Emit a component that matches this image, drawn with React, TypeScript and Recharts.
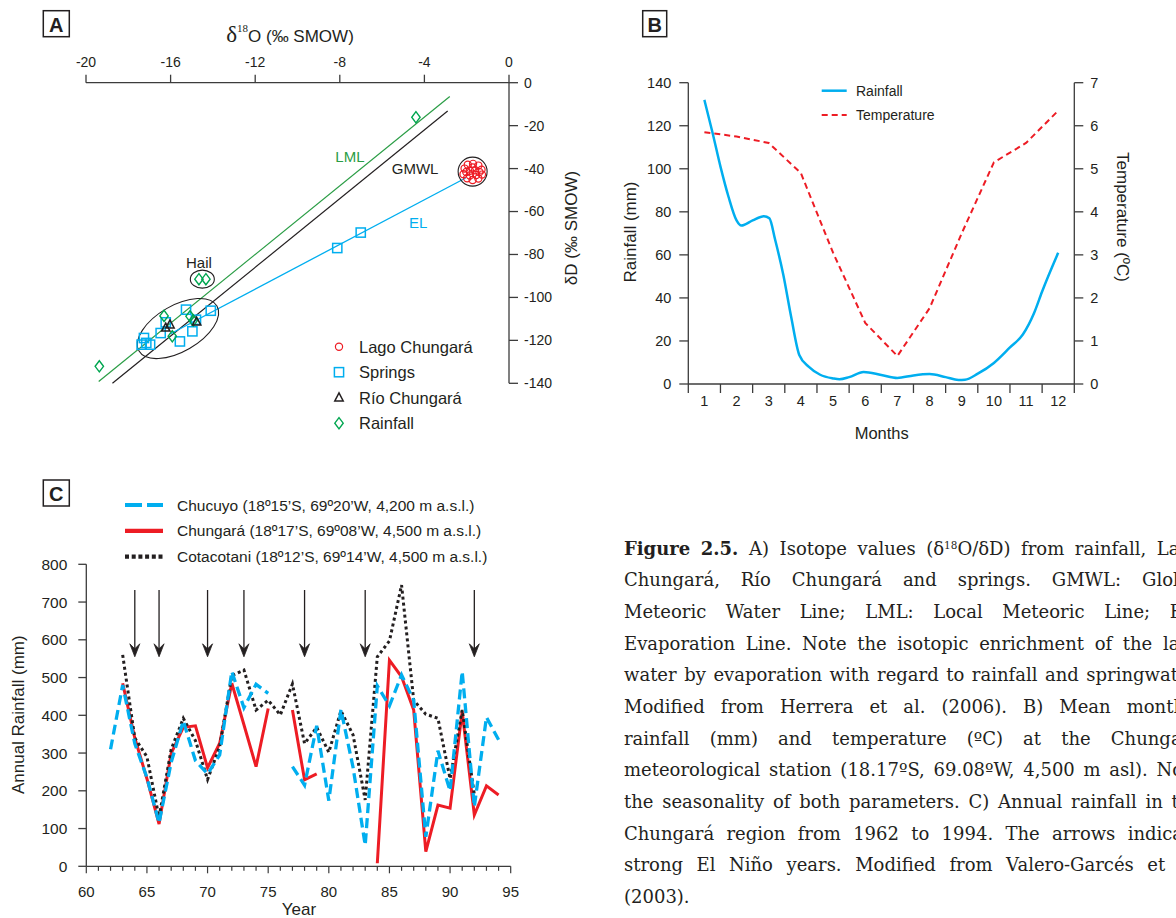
import React from 'react';
import {
  ScatterChart,
  Scatter,
  ComposedChart,
  Line,
  XAxis,
  YAxis,
  ReferenceLine,
  ReferenceDot,
  Legend,
} from 'recharts';

const SANS = '"Liberation Sans", Arial, Helvetica, sans-serif';
const SERIF = '"DejaVu Serif", Georgia, serif';
const INK = '#231f20';
const AXIS = '#3c3c3c';
const CYAN = '#00aeef';
const RED = '#ed1c24';
const GREEN_PT = '#00a650';
const GREEN_LINE = '#2a9d45';

// ---------------- Panel A : isotopes ----------------
const o18Ticks = [-20, -16, -12, -8, -4, 0];
const dDTicks = [0, -20, -40, -60, -80, -100, -120, -140];

const lagoChungara = [
  { x: -2.1, y: -40.0 }, { x: -1.95, y: -38.2 }, { x: -1.7, y: -37.8 }, { x: -1.45, y: -38.6 },
  { x: -1.3, y: -40.5 }, { x: -1.28, y: -42.8 }, { x: -1.45, y: -44.6 }, { x: -1.72, y: -45.3 },
  { x: -1.98, y: -44.5 }, { x: -2.15, y: -42.6 }, { x: -1.85, y: -41.0 }, { x: -1.6, y: -40.8 },
  { x: -1.55, y: -43.0 }, { x: -1.85, y: -43.2 }, { x: -1.72, y: -39.5 }, { x: -2.02, y: -41.6 },
  { x: -1.4, y: -41.6 },
];
const springs = [
  { x: -8.12, y: -77.0 }, { x: -7.01, y: -69.8 }, { x: -14.1, y: -106.2 }, { x: -15.27, y: -105.7 },
  { x: -16.23, y: -111.6 }, { x: -16.47, y: -116.6 }, { x: -17.26, y: -118.9 }, { x: -17.37, y: -122.0 },
  { x: -16.97, y: -122.0 }, { x: -17.15, y: -121.2 }, { x: -15.56, y: -120.5 }, { x: -14.97, y: -115.8 },
  { x: -14.8, y: -110.4 },
];
const rioChungara = [
  { x: -16.23, y: -114.2 }, { x: -16.03, y: -112.7 }, { x: -14.77, y: -111.4 },
];
const rainfallIsotopes = [
  { x: -19.37, y: -132.1 }, { x: -4.4, y: -16.1 }, { x: -14.66, y: -91.5 }, { x: -14.33, y: -91.5 },
  { x: -16.31, y: -108.6 }, { x: -15.08, y: -108.8 }, { x: -14.93, y: -110.8 }, { x: -15.92, y: -118.1 },
];
const gmwlLine = [{ x: -18.75, y: -140 }, { x: -2.9, y: -13.2 }];
const lmlLine = [{ x: -19.4, y: -139.2 }, { x: -2.8, y: -6.4 }];
const elLine = [{ x: -16.0, y: -116.9 }, { x: -2.05, y: -44.4 }];
const lagoCentre = { x: -1.72, y: -41.4 };
const hailCentre = { x: -14.5, y: -91.5 };
const groundCentre = { x: -15.65, y: -114.5 };
const legendANames = ['Lago Chungará', 'Springs', 'Río Chungará', 'Rainfall'];

// ---------------- Panel B : monthly climate ----------------
const months = [1, 2, 3, 4, 5, 6, 7, 8, 9, 10, 11, 12];
const rainTicksB = [0, 20, 40, 60, 80, 100, 120, 140];
const tempTicksB = [0, 1, 2, 3, 4, 5, 6, 7];
const monthlyRainfall = [
  { m: 1, v: 132 }, { m: 1.25, v: 117 }, { m: 1.5, v: 101 }, { m: 1.75, v: 87 }, { m: 2, v: 76 },
  { m: 2.15, v: 73.6 }, { m: 2.5, v: 76 }, { m: 2.85, v: 78 }, { m: 3.02, v: 77 }, { m: 3.2, v: 67 },
  { m: 3.45, v: 51 }, { m: 3.7, v: 31 }, { m: 3.95, v: 13.5 }, { m: 4.25, v: 8 }, { m: 4.6, v: 4.3 },
  { m: 5, v: 2.6 }, { m: 5.2, v: 2.2 }, { m: 5.5, v: 3.2 }, { m: 5.95, v: 5.6 }, { m: 6.5, v: 4.2 },
  { m: 7, v: 2.8 }, { m: 7.5, v: 4.0 }, { m: 8, v: 4.6 }, { m: 8.5, v: 3.2 }, { m: 8.9, v: 1.9 },
  { m: 9.1, v: 2.0 }, { m: 9.5, v: 4.8 }, { m: 10, v: 9.8 }, { m: 10.5, v: 17 }, { m: 10.9, v: 23 },
  { m: 11.25, v: 33 }, { m: 11.5, v: 43 }, { m: 12, v: 61 },
];
const monthlyTemperatureValues = [5.85, 5.75, 5.6, 4.9, 3.05, 1.42, 0.65, 1.76, 3.5, 5.15, 5.6, 6.35];
const monthlyTemperature = months.map((m, i) => ({ m, v: monthlyTemperatureValues[i] }));
const monthTickPositions = months.flatMap((m) => [m - 0.5, m]).concat([12.5]);
const legendBNames = ['Rainfall', 'Temperature'];

// ---------------- Panel C : annual rainfall ----------------
const years = [62, 63, 64, 65, 66, 67, 68, 69, 70, 71, 72, 73, 74, 75, 76, 77, 78, 79, 80, 81, 82, 83, 84, 85, 86, 87, 88, 89, 90, 91, 92, 93, 94];
const chucuyo = [310, 480, 325, 235, 115, 275, 385, 280, 245, 295, 516, 420, 482, 458, null, 264, 215, 372, 174, 415, 262, 56, 478, 425, 507, 440, 78, 306, 200, 516, 158, 395, 335];
const chungara = [null, 485, 340, 232, 112, 299, 368, 372, 261, 326, 485, 375, 264, 418, null, 414, 229, 245, null, null, null, null, 8, 546, 502, 414, 39, 162, 154, 410, 136, 213, 189];
const cotacotani = [null, 560, 340, 290, 130, 310, 392, 333, 230, 317, 505, 520, 414, 440, 401, 483, 325, 368, 302, 412, 348, 176, 555, 597, 745, 440, 403, 392, 232, 414, 190, null, null];
const annualRows = years.map((year, i) => ({ year, chucuyo: chucuyo[i], chungara: chungara[i], cotacotani: cotacotani[i] }));
const yearTicks = [60, 61, 62, 63, 64, 65, 66, 67, 68, 69, 70, 71, 72, 73, 74, 75, 76, 77, 78, 79, 80, 81, 82, 83, 84, 85, 86, 87, 88, 89, 90, 91, 92, 93, 94, 95];
const annualTicks = [0, 100, 200, 300, 400, 500, 600, 700, 800];
const elNinoYears = [64, 66, 70, 73, 78, 83, 92];
const arrowTop = 732;
const arrowTip = 555;
const stationNames = [
  'Chucuyo (18º15’S, 69º20’W, 4,200 m a.s.l.)',
  'Chungará (18º17’S, 69º08’W, 4,500 m a.s.l.)',
  'Cotacotani (18º12’S, 69º14’W, 4,500 m a.s.l.)',
];

const captionLines = [
  'Figure 2.5. A) Isotope values (δ18O/δD) from rainfall, Lake',
  'Chungará, Río Chungará and springs. GMWL: Global',
  'Meteoric Water Line; LML: Local Meteoric Line; EL:',
  'Evaporation Line. Note the isotopic enrichment of the lake',
  'water by evaporation with regard to rainfall and springwater.',
  'Modified from Herrera et al. (2006). B) Mean monthly',
  'rainfall (mm) and temperature (ºC) at the Chungará',
  'meteorological station (18.17ºS, 69.08ºW, 4,500 m asl). Note',
  'the seasonality of both parameters. C) Annual rainfall in the',
  'Chungará region from 1962 to 1994. The arrows indicate',
  'strong El Niño years. Modified from Valero-Garcés et al.',
  '(2003).',
];

// ---------------- shapes ----------------
const CircleMark = (p: any) => (
  <circle cx={p.cx} cy={p.cy} r={3.6} fill="none" stroke={RED} strokeWidth={1.2} />
);
const SquareMark = (p: any) => (
  <rect x={p.cx - 4.6} y={p.cy - 4.6} width={9.2} height={9.2} fill="none" stroke={CYAN} strokeWidth={1.5} />
);
const TriangleMark = (p: any) => (
  <path d={`M${p.cx},${p.cy - 4.8}L${p.cx + 4.2},${p.cy + 3.2}L${p.cx - 4.2},${p.cy + 3.2}Z`} fill="none" stroke={INK} strokeWidth={1.5} />
);
const DiamondMark = (p: any) => (
  <path d={`M${p.cx},${p.cy - 5.6}L${p.cx + 4.2},${p.cy}L${p.cx},${p.cy + 5.6}L${p.cx - 4.2},${p.cy}Z`} fill="none" stroke={GREEN_PT} strokeWidth={1.4} />
);
const textShape = (label: string, color: string) => (p: any) => (
  <text x={p.cx} y={p.cy} textAnchor="middle" dominantBaseline="central" fill={color} fontSize={15} fontFamily={SANS}>
    {label}
  </text>
);
const ellipseShape = (rx: number, ry: number, angle: number) => (p: any) => (
  <ellipse cx={p.cx} cy={p.cy} rx={rx} ry={ry} transform={`rotate(${angle} ${p.cx} ${p.cy})`} fill="none" stroke={INK} strokeWidth={1.1} />
);
const ArrowHead = (p: any) => (
  <path d={`M${p.cx},${p.cy}L${p.cx - 5},${p.cy - 13}L${p.cx},${p.cy - 8}L${p.cx + 5},${p.cy - 13}Z`} fill={INK} stroke={INK} strokeWidth={0.8} strokeLinejoin="round" />
);

const tickStyle = (size: number) => ({ fill: INK, fontSize: size, fontFamily: SANS });
const axisLine = { stroke: AXIS, strokeWidth: 1.3 };

const MonthTick = (p: any) => {
  const v = p.payload.value;
  if (Number.isInteger(v)) {
    return (
      <text x={p.x} y={p.y + 16.5} textAnchor="middle" dominantBaseline="central" fontSize={14.5} fill={INK} fontFamily={SANS}>
        {v}
      </text>
    );
  }
  return <line x1={p.x} x2={p.x} y1={p.y} y2={p.y + 9} stroke={AXIS} strokeWidth={1.3} />;
};

const YearTick = (p: any) => {
  const v = p.payload.value;
  const major = v % 5 === 0;
  return (
    <g>
      <line x1={p.x} x2={p.x} y1={p.y} y2={p.y + (major ? 7 : 4.5)} stroke={AXIS} strokeWidth={1.2} />
      {major && (
        <text x={p.x} y={p.y + 25.4} textAnchor="middle" dominantBaseline="central" fontSize={15} fill={INK} fontFamily={SANS}>
          {v}
        </text>
      )}
    </g>
  );
};

// ---------------- legends ----------------
const LegendA = () => {
  const marks = [CircleMark, SquareMark, TriangleMark, DiamondMark];
  return (
    <svg width={200} height={100} style={{ overflow: 'visible' }}>
      {legendANames.map((name, i) => {
        const Mark = marks[i];
        const cy = 12.7 + i * 25.5;
        return (
          <g key={name}>
            <Mark cx={14} cy={cy} />
            <text x={34} y={cy} dominantBaseline="central" fontSize={16.5} fill={INK} fontFamily={SANS}>
              {name}
            </text>
          </g>
        );
      })}
    </svg>
  );
};

const LegendB = () => {
  const styles = [
    { stroke: CYAN, strokeWidth: 2.5, dash: undefined },
    { stroke: RED, strokeWidth: 2, dash: '6 4' },
  ];
  return (
    <svg width={160} height={50} style={{ overflow: 'visible' }}>
      {legendBNames.map((name, i) => {
        const cy = 12.7 + i * 24.3;
        const s = styles[i];
        return (
          <g key={name}>
            <line x1={6.7} x2={31.7} y1={cy} y2={cy} stroke={s.stroke} strokeWidth={s.strokeWidth} strokeDasharray={s.dash} />
            <text x={41} y={cy} dominantBaseline="central" fontSize={14} fill={INK} fontFamily={SANS}>
              {name}
            </text>
          </g>
        );
      })}
    </svg>
  );
};

const LegendC = () => {
  const styles = [
    { stroke: CYAN, dash: '17 5' },
    { stroke: RED, dash: undefined },
    { stroke: INK, dash: '4 2.7' },
  ];
  return (
    <svg width={420} height={80} style={{ overflow: 'visible' }}>
      {stationNames.map((name, i) => {
        const cy = 13 + i * 25.8;
        const s = styles[i];
        return (
          <g key={name}>
            <line x1={5} x2={43} y1={cy} y2={cy} stroke={s.stroke} strokeWidth={4.2} strokeDasharray={s.dash} />
            <text x={57} y={cy} dominantBaseline="central" fontSize={15.5} fill={INK} fontFamily={SANS}>
              {name}
            </text>
          </g>
        );
      })}
    </svg>
  );
};

// ---------------- panels ----------------
const PanelA = () => (
  <ScatterChart width={600} height={440} margin={{ top: 52.7, right: 31, bottom: 56.7, left: 86 }}>
    <XAxis
      type="number"
      dataKey="x"
      orientation="top"
      domain={[-20, 0]}
      ticks={o18Ticks}
      interval={0}
      allowDataOverflow
      tickSize={8}
      tickMargin={8}
      axisLine={axisLine}
      tickLine={axisLine}
      tick={tickStyle(14)}
    />
    <YAxis
      type="number"
      dataKey="y"
      orientation="right"
      domain={[-140, 0]}
      ticks={dDTicks}
      interval={0}
      allowDataOverflow
      tickSize={9}
      tickMargin={6}
      axisLine={axisLine}
      tickLine={axisLine}
      tick={tickStyle(14)}
    />
    <ReferenceLine segment={lmlLine} stroke={GREEN_LINE} strokeWidth={1.2} ifOverflow="visible" />
    <ReferenceLine segment={gmwlLine} stroke={INK} strokeWidth={1.2} ifOverflow="visible" />
    <ReferenceLine segment={elLine} stroke={CYAN} strokeWidth={1.3} ifOverflow="visible" />
    <ReferenceDot x={groundCentre.x} y={groundCentre.y} r={1} shape={ellipseShape(45, 23, -30)} ifOverflow="visible" />
    <ReferenceDot x={hailCentre.x} y={hailCentre.y} r={1} shape={ellipseShape(12, 9, 0)} ifOverflow="visible" />
    <ReferenceDot x={lagoCentre.x} y={lagoCentre.y} r={1} shape={ellipseShape(14.5, 14.5, 0)} ifOverflow="visible" />
    <Scatter data={lagoChungara} shape={CircleMark} isAnimationActive={false} />
    <Scatter data={springs} shape={SquareMark} isAnimationActive={false} />
    <Scatter data={rainfallIsotopes} shape={DiamondMark} isAnimationActive={false} />
    <Scatter data={rioChungara} shape={TriangleMark} isAnimationActive={false} />
    <ReferenceDot x={-7.52} y={-34.6} r={1} shape={textShape('LML', GREEN_LINE)} ifOverflow="visible" />
    <ReferenceDot x={-4.44} y={-40.1} r={1} shape={textShape('GMWL', INK)} ifOverflow="visible" />
    <ReferenceDot x={-4.3} y={-65.1} r={1} shape={textShape('EL', CYAN)} ifOverflow="visible" />
    <ReferenceDot x={-14.66} y={-83.7} r={1} shape={textShape('Hail', INK)} ifOverflow="visible" />
    <Legend
      layout="vertical"
      align="center"
      verticalAlign="middle"
      content={() => <LegendA />}
      wrapperStyle={{ left: 325, top: 334, width: 200, height: 100 }}
    />
  </ScatterChart>
);

const PanelB = () => (
  <ComposedChart width={576} height={450} margin={{ top: 82.7, right: 41.7, bottom: 36, left: 28.3 }}>
    <XAxis
      type="number"
      dataKey="m"
      domain={[0.5, 12.5]}
      ticks={monthTickPositions}
      interval={0}
      allowDataOverflow
      tickLine={false}
      tickSize={0}
      tickMargin={0}
      axisLine={axisLine}
      tick={(p: any) => <MonthTick {...p} />}
    />
    <YAxis
      yAxisId="mm"
      type="number"
      domain={[0, 140]}
      ticks={rainTicksB}
      interval={0}
      tickSize={9}
      tickMargin={8}
      axisLine={axisLine}
      tickLine={axisLine}
      tick={tickStyle(14.5)}
    />
    <YAxis
      yAxisId="t"
      orientation="right"
      type="number"
      domain={[0, 7]}
      ticks={tempTicksB}
      interval={0}
      tickSize={9}
      tickMargin={7}
      axisLine={axisLine}
      tickLine={axisLine}
      tick={tickStyle(14.5)}
    />
    <Line yAxisId="t" data={monthlyTemperature} dataKey="v" type="linear" stroke={RED} strokeWidth={2} strokeDasharray="6 4" dot={false} activeDot={false} isAnimationActive={false} />
    <Line yAxisId="mm" data={monthlyRainfall} dataKey="v" type="monotone" stroke={CYAN} strokeWidth={2.5} dot={false} activeDot={false} isAnimationActive={false} />
    <Legend
      layout="vertical"
      align="center"
      verticalAlign="middle"
      content={() => <LegendB />}
      wrapperStyle={{ left: 215, top: 78, width: 160, height: 50 }}
    />
  </ComposedChart>
);

const PanelC = () => (
  <ComposedChart width={560} height={448} data={annualRows} margin={{ top: 94.3, right: 49.3, bottom: 21.7, left: 26.3 }}>
    <XAxis
      type="number"
      dataKey="year"
      domain={[60, 95]}
      ticks={yearTicks}
      interval={0}
      allowDataOverflow
      tickLine={false}
      tickSize={0}
      tickMargin={0}
      axisLine={axisLine}
      tick={(p: any) => <YearTick {...p} />}
    />
    <YAxis
      type="number"
      domain={[0, 800]}
      ticks={annualTicks}
      interval={0}
      tickSize={8}
      tickMargin={11}
      axisLine={axisLine}
      tickLine={axisLine}
      tick={tickStyle(15.5)}
    />
    {elNinoYears.map((yr) => (
      <ReferenceLine key={'s' + yr} segment={[{ x: yr, y: arrowTop }, { x: yr, y: arrowTip + 6 }]} stroke={INK} strokeWidth={1.3} ifOverflow="visible" />
    ))}
    {elNinoYears.map((yr) => (
      <ReferenceDot key={'h' + yr} x={yr} y={arrowTip} r={1} shape={ArrowHead} ifOverflow="visible" />
    ))}
    <Line dataKey="chungara" type="linear" stroke={RED} strokeWidth={3} dot={false} activeDot={false} connectNulls={false} isAnimationActive={false} />
    <Line dataKey="cotacotani" type="linear" stroke={INK} strokeWidth={3} strokeDasharray="3 3" dot={false} activeDot={false} connectNulls={false} isAnimationActive={false} />
    <Line dataKey="chucuyo" type="linear" stroke={CYAN} strokeWidth={3.3} strokeDasharray="10 5" dot={false} activeDot={false} connectNulls={false} isAnimationActive={false} />
    <Legend
      layout="vertical"
      align="center"
      verticalAlign="middle"
      content={() => <LegendC />}
      wrapperStyle={{ left: 120, top: 22, width: 420, height: 80 }}
    />
  </ComposedChart>
);

// ---------------- caption ----------------
const renderWord = (w: string, li: number, wi: number) => {
  if (li === 0 && wi < 2) return <b key={wi}>{w}</b>;
  if (w.includes('δ18O')) {
    const [a, b] = w.split('18');
    return (
      <span key={wi}>
        {a}
        <sup style={{ fontSize: '0.58em', verticalAlign: '0.6em', lineHeight: 0 }}>18</sup>
        {b}
      </span>
    );
  }
  return <span key={wi}>{w}</span>;
};

const Caption = () => (
  <div style={{ position: 'absolute', left: 624, top: 532.6, fontFamily: SERIF, fontSize: 18, color: INK }}>
    {captionLines.map((line, li) => (
      <div
        key={li}
        style={{
          display: 'flex',
          justifyContent: li === captionLines.length - 1 ? 'flex-start' : 'space-between',
          columnGap: '0.22em',
          width: 577,
          height: 31.67,
          lineHeight: '31.67px',
          whiteSpace: 'nowrap',
        }}
      >
        {line.split(' ').map((w, wi) => renderWord(w, li, wi))}
      </div>
    ))}
  </div>
);

const PanelLetter = ({ x, y, w, h, letter }: { x: number; y: number; w: number; h: number; letter: string }) => (
  <g>
    <rect x={x} y={y} width={w} height={h} fill="none" stroke={INK} strokeWidth={1.5} />
    <text x={x + w / 2} y={y + h / 2 + 1} textAnchor="middle" dominantBaseline="central" fontSize={20} fontWeight="bold" fill={INK} fontFamily={SANS}>
      {letter}
    </text>
  </g>
);

export default function App() {
  return (
    <div style={{ position: 'fixed', left: 0, top: 0, width: 1176, height: 918, overflow: 'hidden', background: '#fff', fontFamily: SANS }}>
      <div style={{ position: 'absolute', left: 0, top: 0 }}>
        <PanelA />
      </div>
      <div style={{ position: 'absolute', left: 600, top: 0 }}>
        <PanelB />
      </div>
      <div style={{ position: 'absolute', left: 0, top: 470 }}>
        <PanelC />
      </div>
      <svg width={1176} height={918} style={{ position: 'absolute', left: 0, top: 0, pointerEvents: 'none' }} fontFamily={SANS} fill={INK}>
        <PanelLetter x={43.3} y={10.7} w={26} h={26} letter="A" />
        <PanelLetter x={642.7} y={10.7} w={24} h={26} letter="B" />
        <PanelLetter x={43.3} y={480} w={26} h={26} letter="C" />
        <text x={290} y={41.5} textAnchor="middle" fontSize={17}>
          <tspan fontSize={23} fontFamily='"Liberation Serif", serif'>δ</tspan>
          <tspan fontSize={11} dy={-10} fontFamily='"Liberation Serif", serif'>18</tspan>
          <tspan dy={10}>O (‰ SMOW)</tspan>
        </text>
        <text transform="translate(571.7 228) rotate(-90)" textAnchor="middle" dominantBaseline="central" fontSize={17}>
          δD (‰ SMOW)
        </text>
        <text transform="translate(630.7 232) rotate(-90)" textAnchor="middle" dominantBaseline="central" fontSize={17}>
          Rainfall (mm)
        </text>
        <text x={881.7} y={433} textAnchor="middle" dominantBaseline="central" fontSize={16.5}>
          Months
        </text>
        <text transform="translate(1122.5 217) rotate(90)" textAnchor="middle" dominantBaseline="central" fontSize={17}>
          Temperature (ºC)
        </text>
        <text transform="translate(18.3 714.7) rotate(-90)" textAnchor="middle" dominantBaseline="central" fontSize={17}>
          Annual Rainfall (mm)
        </text>
        <text x={299} y={909} textAnchor="middle" dominantBaseline="central" fontSize={17}>
          Year
        </text>
      </svg>
      <Caption />
    </div>
  );
}
